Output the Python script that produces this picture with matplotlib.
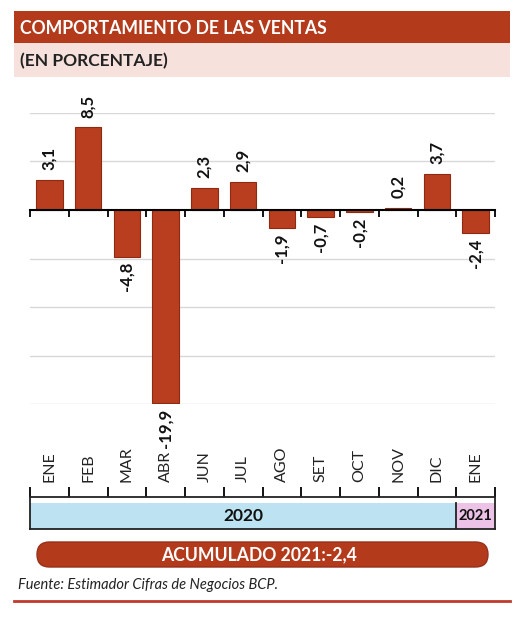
import numpy as np
import matplotlib
matplotlib.use("Agg")
import matplotlib.pyplot as plt
from matplotlib.patches import Rectangle, FancyBboxPatch

plt.rcParams["font.family"] = ["Lato", "DejaVu Sans"]

# data
months = ["ENE", "FEB", "MAR", "ABR", "JUN", "JUL", "AGO", "SET", "OCT", "NOV", "DIC", "ENE"]
values = [3.1, 8.5, -4.8, -19.9, 2.3, 2.9, -1.9, -0.7, -0.2, 0.2, 3.7, -2.4]
years = ["2020", "2021"]
year_counts = [11, 1]
title = "COMPORTAMIENTO DE LAS VENTAS"
subtitle = "(EN PORCENTAJE)"
summary = "ACUMULADO 2021:-2,4"
source = "Fuente: Estimador Cifras de Negocios BCP."

RED = "#b43a1c"
BAR = "#b93e1f"
BAR_EDGE = "#8e2a12"
PINK_BG = "#f6e1dc"
BLUE = "#bde3f2"
MAUVE = "#ecc3e6"

W, H = 530, 624
fig = plt.figure(figsize=(W / 100, H / 100), dpi=100)

# decoration layer in pixel units
deco = fig.add_axes([0, 0, 1, 1])
deco.set_xlim(0, W)
deco.set_ylim(H, 0)
deco.axis("off")
deco.add_patch(Rectangle((14, 11), 496, 32, color=RED, lw=0))
deco.add_patch(Rectangle((14, 43), 496, 34, color=PINK_BG, lw=0))
deco.text(20, 28, title, color="white", fontsize=12.7, fontweight="bold", va="center")
deco.text(20, 61, subtitle, color="#222222", fontsize=12.5, fontweight="bold", va="center")
deco.add_patch(FancyBboxPatch((37, 542), 451, 25, boxstyle="round,pad=0,rounding_size=12.5",
                              fc=RED, ec="#96301a", lw=1))
deco.text(259, 555, summary, color="white", fontsize=12.7, fontweight="bold",
          ha="center", va="center")
deco.text(18, 585, source, color="#222222", fontsize=10.5, style="italic", va="center")
deco.plot([14, 510], [601, 601], color="#c0392b", lw=2)

# main bar chart
x = np.arange(len(months))
ax = fig.add_axes([30 / W, 1 - 404.3 / H, 465 / W, 291.6 / H])
ax.set_facecolor("none")
ax.set_xlim(-0.5, len(months) - 0.5)
ax.set_ylim(-20, 10)
ax.set_yticks([10, 5, -5, -10, -15, -20])
ax.yaxis.grid(True, color="#d8d8d8", lw=1)
ax.set_axisbelow(True)
ax.tick_params(axis="y", length=0, labelleft=False)
for s in ["top", "left", "right"]:
    ax.spines[s].set_visible(False)
ax.spines["bottom"].set_position(("data", 0))
ax.spines["bottom"].set_linewidth(1.5)
ax.spines["bottom"].set_zorder(3)
ax.set_xticks([])
ax.set_xticks(np.arange(-0.5, len(months)), minor=True)
ax.tick_params(axis="x", which="minor", direction="out", length=5, width=1.3, labelbottom=False)

ax.bar(x, values, width=0.69, color=BAR, edgecolor=BAR_EDGE, lw=0.8, zorder=2)
for xi, v in zip(x, values):
    lab = f"{v:.1f}".replace(".", ",")
    ax.annotate(lab, (xi, v), xytext=(0, 7 if v >= 0 else -4), textcoords="offset points",
                rotation=90, ha="center", va="bottom" if v >= 0 else "top",
                fontsize=12, fontweight="bold", color="#111111", annotation_clip=False)

# year band with month labels
bx = fig.add_axes([30 / W, 1 - 528.5 / H, 465 / W, 31.5 / H])
bx.set_xlim(-0.5, len(months) - 0.5)
bx.set_ylim(0, 1)
start = -0.5
for yr, n, col in zip(years, year_counts, [BLUE, MAUVE]):
    bx.axvspan(start, start + n, 0, 0.8, color=col, lw=0)
    bx.text(start + n / 2, 0.4, yr, ha="center", va="center", fontsize=12.5 if n > 1 else 10.5,
            fontweight="bold", color="#111111")
    start += n
bx.axvline(-0.5 + year_counts[0], 0, 0.8, color="#222222", lw=1.3)
for s in bx.spines.values():
    s.set_linewidth(1.3)
    s.set_color("#222222")
bx.set_yticks([])
bx.xaxis.set_ticks_position("top")
bx.set_xticks(x)
bx.set_xticklabels(months, rotation=90, fontsize=11.5, fontweight="normal", color="#222222")
bx.set_xticks(np.arange(-0.5, len(months)), minor=True)
bx.tick_params(axis="x", which="major", length=0, pad=11)
bx.tick_params(axis="x", which="minor", direction="out", length=7, width=1.3)

fig.savefig("out.png", dpi=100)
